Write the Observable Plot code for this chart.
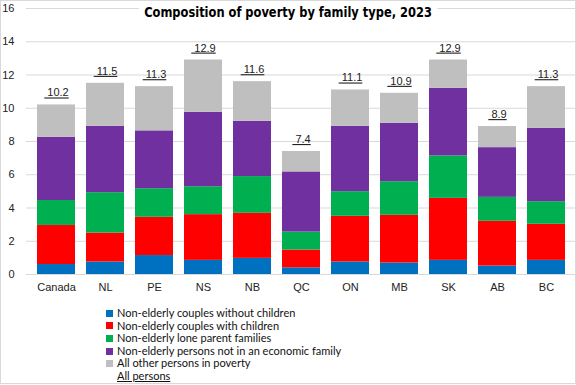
<!DOCTYPE html>
<html>
<head>
<meta charset="utf-8">
<script src="https://cdn.jsdelivr.net/npm/d3@7"></script>
<script src="https://cdn.jsdelivr.net/npm/@observablehq/plot@0.6"></script>
<style>
  html, body { margin: 0; padding: 0; background: #fff; }
  #wrap { position: relative; width: 576px; height: 385px; overflow: hidden; font-family: "Liberation Sans", Arial, sans-serif; }
  #frame { position: absolute; left: 0; top: 0; width: 576px; height: 384px; box-sizing: border-box; border: 1px solid #d9d9d9; pointer-events: none; }
  #chart { position: absolute; left: 0; top: 0; }
  #title { position: absolute; top: 3px; left: 288px; transform: translateX(-50%) scaleX(0.86); background: #fff; padding: 0 6px;
           font-family: "Liberation Sans Narrow", "DejaVu Sans Condensed", sans-serif; font-weight: bold; font-size: 14.8px; line-height: 18px; color: #000; white-space: nowrap; }
  #legend { position: absolute; left: 106px; top: 307px; font-family: Lato, "Liberation Sans Narrow", sans-serif; font-size: 11px; color: #111; }
  .row { height: 12.6px; line-height: 12.6px; display: flex; align-items: center; white-space: nowrap; }
  .sw { width: 7px; height: 7px; margin-right: 4px; display: inline-block; }
  .u { text-decoration: underline; margin-left: 11px; }
</style>
</head>
<body>
<div id="wrap">
  <div id="chart"></div>
  <div id="title">Composition of poverty by family type, 2023</div>
  <div id="legend"></div>
  <div id="frame"></div>
</div>
<script>
const regions = ["Canada", "NL", "PE", "NS", "NB", "QC", "ON", "MB", "SK", "AB", "BC"];
const seriesNames = [
  "Non-elderly couples without children",
  "Non-elderly couples with children",
  "Non-elderly lone parent families",
  "Non-elderly persons not in an economic family",
  "All other persons in poverty"
];
const seriesColors = ["#0070C0", "#FF0000", "#00B050", "#7030A0", "#BFBFBF"];
const couplesNoChildren = [0.60, 0.75, 1.14, 0.85, 0.97, 0.40, 0.75, 0.69, 0.85, 0.51, 0.85];
const couplesWithChildren = [2.35, 1.74, 2.30, 2.75, 2.71, 1.07, 2.75, 2.87, 3.73, 2.69, 2.17];
const loneParent = [1.50, 2.43, 1.72, 1.68, 2.21, 1.08, 1.48, 2.02, 2.55, 1.44, 1.36];
const notInFamily = [3.80, 4.00, 3.48, 4.48, 3.33, 3.62, 3.94, 3.52, 4.07, 2.99, 4.42];
const allOther = [1.95, 2.58, 2.66, 3.14, 2.38, 1.23, 2.18, 1.80, 1.70, 1.27, 2.50];
const allPersons = [10.2, 11.5, 11.3, 12.9, 11.6, 7.4, 11.1, 10.9, 12.9, 8.9, 11.3];
const yTicks = [0, 2, 4, 6, 8, 10, 12, 14, 16];

const seriesValues = [couplesNoChildren, couplesWithChildren, loneParent, notInFamily, allOther];
const rows = [];
seriesNames.forEach((s, si) => {
  regions.forEach((r, ri) => rows.push({region: r, series: s, value: seriesValues[si][ri]}));
});
const totals = regions.map((r, i) => ({region: r, value: allPersons[i]}));

const plot = Plot.plot({
  width: 576,
  height: 300,
  marginTop: 8,
  marginBottom: 26,
  marginLeft: 26,
  marginRight: 0,
  style: {fontFamily: "'Liberation Sans', Arial, sans-serif", fontSize: "11px", color: "#222", background: "transparent"},
  x: {domain: regions, padding: 0.22, label: null},
  y: {domain: [0, 16], ticks: yTicks, label: null},
  color: {domain: seriesNames, range: seriesColors},
  marks: [
    Plot.gridY(yTicks, {stroke: "#d9d9d9", strokeOpacity: 1}),
    Plot.barY(rows, {x: "region", y: "value", fill: "series", order: seriesNames}),
    Plot.axisY(yTicks, {tickSize: 0, tickPadding: 12, fontSize: 11, tickFormat: d => d}),
    Plot.axisX({tickSize: 0, tickPadding: 9, fontSize: 11}),
    Plot.text(totals, {x: "region", y: "value", text: d => "\u00a0" + d.value.toFixed(1), dy: -12, fontSize: 11, fill: "#222"})
  ]
});
document.getElementById("chart").appendChild(plot);
d3.select(plot).selectAll("g[aria-label='text'] text").style("text-decoration", "underline");

const legend = document.getElementById("legend");
seriesNames.forEach((s, i) => {
  const row = document.createElement("div");
  row.className = "row";
  row.innerHTML = `<span class="sw" style="background:${seriesColors[i]}"></span><span>${s}</span>`;
  legend.appendChild(row);
});
const last = document.createElement("div");
last.className = "row";
last.innerHTML = `<span class="u">All persons</span>`;
legend.appendChild(last);
</script>
</body>
</html>
